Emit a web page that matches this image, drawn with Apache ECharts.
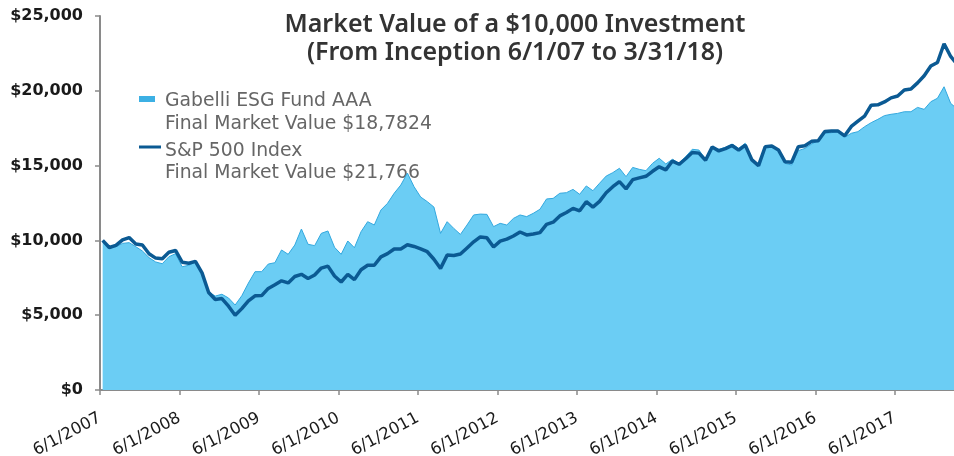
<!DOCTYPE html>
<html lang="en">
<head>
<meta charset="UTF-8">
<title>Market Value of a $10,000 Investment</title>
<script src="https://cdn.jsdelivr.net/npm/echarts@6/dist/echarts.min.js"></script>
<style>
	html, body {
		margin: 0;
		padding: 0;
		background: #fff;
	}
	#main {
		width: 954px;
		height: 456px;
	}
</style>
</head>
<body>
<div id="main"></div>
<script>
	// one value per month: the 6/1/07 start, then month ends from Jul 2007 to Mar 2018
	let fundValues = [
		9900, 9480, 9580, 9800, 9850, 9580, 9290, 8850, 8560, 8440, 8910, 9110,
		8240, 8335, 8556, 7750, 6550, 6280, 6400, 6150, 5680, 6300, 7150, 7910,
		7910, 8420, 8510, 9360, 9070, 9690, 10760, 9740, 9650, 10470, 10630, 9540,
		9070, 9960, 9510, 10580, 11250, 11030, 12030, 12480, 13150, 13700, 14500, 13590,
		12900, 12590, 12230, 10470, 11250, 10800, 10400, 11030, 11700, 11760, 11740, 10920,
		11140, 11030, 11470, 11700, 11590, 11810, 12080, 12770, 12810, 13150, 13190, 13410,
		13080, 13640, 13320, 13820, 14300, 14530, 14820, 14260, 14880, 14750, 14660, 15150,
		15490, 15110, 15420, 15150, 15600, 16090, 16040, 15420, 16220, 16090, 16220, 16440,
		16150, 16490, 15490, 15040, 16220, 16310, 16040, 15150, 15040, 16000, 16150, 16440,
		16670, 17160, 17200, 17270, 16890, 17160, 17270, 17600, 17870, 18090, 18340, 18430,
		18490, 18600, 18600, 18890, 18760, 19270, 19500, 20270, 19160, 18782
	];
	let spValues = [
		10000, 9525, 9668, 10030, 10190, 9764, 9696, 9112, 8816, 8778, 9208, 9328,
		8544, 8472, 8594, 7830, 6514, 6046, 6110, 5600, 5000, 5440, 5962, 6296,
		6310, 6790, 7034, 7296, 7158, 7588, 7734, 7455, 7686, 8150, 8280, 7617,
		7221, 7726, 7379, 8035, 8340, 8340, 8899, 9112, 9422, 9426, 9705, 9595,
		9435, 9243, 8741, 8128, 9016, 8996, 9088, 9497, 9907, 10234, 10170, 9559,
		9951, 10089, 10293, 10561, 10366, 10426, 10521, 11067, 11218, 11638, 11862, 12140,
		11977, 12587, 12222, 12605, 13185, 13587, 13931, 13445, 14060, 14178, 14283, 14618,
		14920, 14715, 15303, 15088, 15457, 15875, 15834, 15358, 16240, 15984, 16138, 16346,
		16030, 16366, 15380, 14995, 16260, 16308, 16050, 15253, 15232, 16266, 16329, 16622,
		16666, 17281, 17305, 17308, 16992, 17621, 17969, 18310, 19037, 19060, 19256, 19527,
		19650, 20054, 20115, 20531, 21010, 21655, 21893, 23146, 22293, 21766
	];
	let tickLabels = [
		'6/1/2007', '6/1/2008', '6/1/2009', '6/1/2010', '6/1/2011', '6/1/2012',
		'6/1/2013', '6/1/2014', '6/1/2015', '6/1/2016', '6/1/2017'
	];
	let seriesNames = ['Gabelli ESG Fund AAA', 'S&P 500 Index'];
	let finalLabels = ['Final Market Value $18,7824', 'Final Market Value $21,766'];
	let titleLines = ['Market Value of a $10,000 Investment', '(From Inception 6/1/07 to 3/31/18)'];

	// the first month sits a little to the right of the 6/1/2007 tick
	let monthShift = 0.4;

	function toPoints(values) {
		return values.map((v, i) => [i + monthShift, v]);
	}

	let textFont = '"DejaVu Sans", sans-serif';
	let titleFont = '"Noto Sans", sans-serif';
	let fundEdge = '#33a8de';
	let spColor = '#0b5a93';

	let option = {
		animation: false,
		backgroundColor: '#fff',
		grid: {
			left: 100,
			right: 0,
			top: 16,
			bottom: 66,
			outerBoundsMode: 'none'
		},
		xAxis: {
			type: 'value',
			min: 0,
			max: 128.9,
			interval: 12,
			axisLine: {
				show: true,
				onZero: false,
				lineStyle: { color: '#8a8a8a', width: 2 }
			},
			axisTick: {
				show: true,
				length: 5,
				lineStyle: { color: '#8a8a8a', width: 1.5 }
			},
			splitLine: { show: false },
			axisLabel: {
				rotate: 28,
				margin: 27,
				color: '#1a1a1a',
				fontFamily: textFont,
				fontSize: 16.5,
				showMaxLabel: false,
				formatter: (v) => {
					if (v % 12 !== 0) return '';
					return tickLabels[v / 12] || '';
				}
			}
		},
		yAxis: {
			type: 'value',
			min: 0,
			max: 25000,
			interval: 5000,
			axisLine: {
				show: true,
				lineStyle: { color: '#8a8a8a', width: 2 }
			},
			axisTick: {
				show: true,
				length: 5,
				lineStyle: { color: '#8a8a8a', width: 1.5 }
			},
			splitLine: { show: false },
			axisLabel: {
				margin: 17,
				color: '#1a1a1a',
				fontFamily: textFont,
				fontSize: 16,
				fontWeight: 'bold',
				formatter: (v) => '$' + v.toLocaleString('en-US')
			}
		},
		series: [
			{
				name: seriesNames[0],
				type: 'line',
				data: toPoints(fundValues),
				symbol: 'none',
				z: 2,
				lineStyle: { color: fundEdge, width: 1 },
				areaStyle: { color: '#6bcdf4', opacity: 1 }
			},
			{
				name: seriesNames[1],
				type: 'line',
				data: toPoints(spValues),
				symbol: 'none',
				z: 3,
				lineStyle: { color: spColor, width: 3.5 }
			}
		],
		graphic: [
			{
				type: 'text',
				x: 515,
				y: 25,
				style: {
					text: titleLines[0],
					align: 'center',
					verticalAlign: 'middle',
					fill: '#333',
					font: '600 25px ' + titleFont
				}
			},
			{
				type: 'text',
				x: 515,
				y: 53,
				style: {
					text: titleLines[1],
					align: 'center',
					verticalAlign: 'middle',
					fill: '#333',
					font: '600 25px ' + titleFont
				}
			},
			{
				type: 'rect',
				x: 139,
				y: 96,
				shape: { width: 16, height: 6 },
				style: { fill: '#3cb0e4' }
			},
			{
				type: 'text',
				x: 165,
				y: 101,
				style: {
					text: seriesNames[0],
					verticalAlign: 'middle',
					fill: '#666',
					font: '18.8px ' + textFont
				}
			},
			{
				type: 'text',
				x: 165,
				y: 124,
				style: {
					text: finalLabels[0],
					verticalAlign: 'middle',
					fill: '#666',
					font: '18.8px ' + textFont
				}
			},
			{
				type: 'rect',
				x: 139,
				y: 145.5,
				shape: { width: 22, height: 3 },
				style: { fill: spColor }
			},
			{
				type: 'text',
				x: 165,
				y: 151,
				style: {
					text: seriesNames[1],
					verticalAlign: 'middle',
					fill: '#666',
					font: '18.8px ' + textFont
				}
			},
			{
				type: 'text',
				x: 165,
				y: 173,
				style: {
					text: finalLabels[1],
					verticalAlign: 'middle',
					fill: '#666',
					font: '18.8px ' + textFont
				}
			}
		]
	};

	let chart = echarts.init(document.getElementById('main'));
	chart.setOption(option);
</script>
</body>
</html>
